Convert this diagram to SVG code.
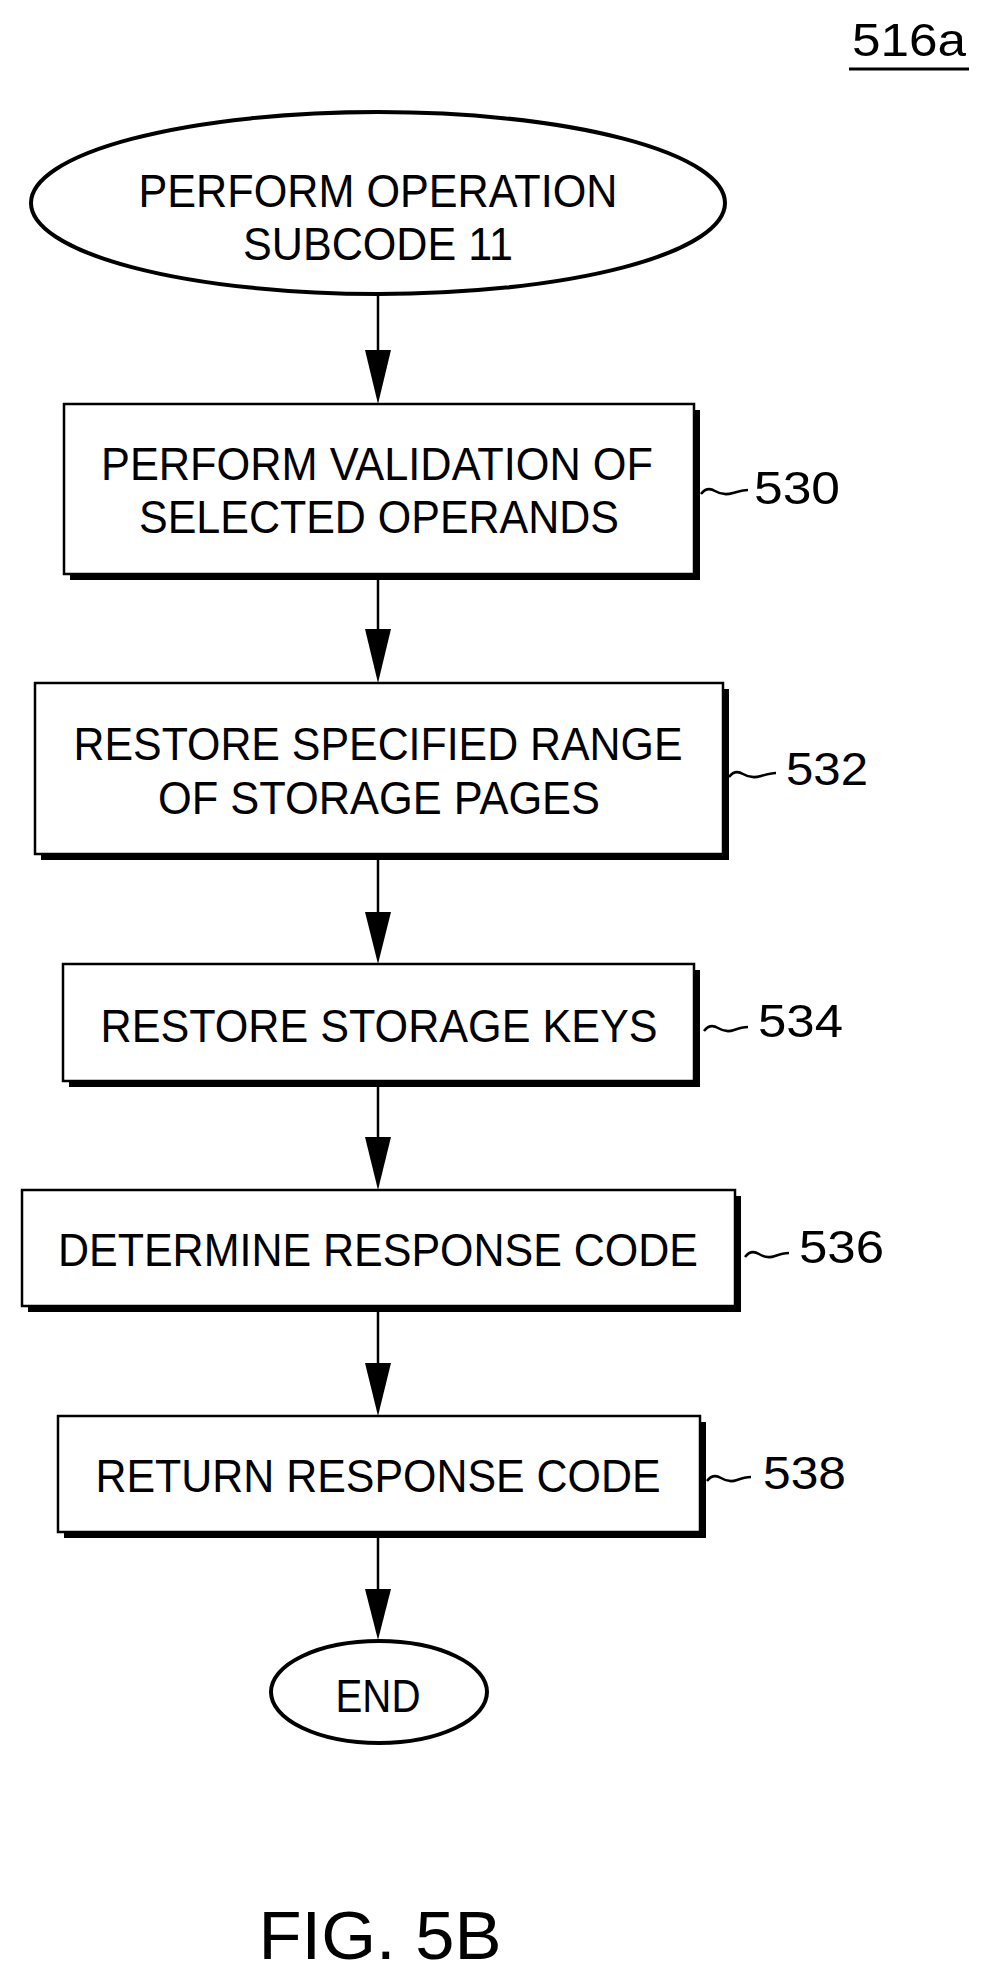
<svg xmlns="http://www.w3.org/2000/svg" width="990" height="1981" viewBox="0 0 990 1981">
<style>
text{font-family:"Liberation Sans",Arial,sans-serif;fill:#000}
.t{font-size:46px;text-anchor:middle}
.l{font-size:46px}
.box{fill:#fff;stroke:#000;stroke-width:2.5}
.sh{fill:#000}
.ell{fill:#fff;stroke:#000;stroke-width:4}
.ln{stroke:#000;stroke-width:2.5;fill:none}
</style>
<defs>
<marker id="ah" markerWidth="26" markerHeight="53" refX="13" refY="53" orient="auto" markerUnits="userSpaceOnUse" viewBox="0 0 26 53">
<path d="M0,0 L26,0 L13,53 Z" fill="#000" transform="rotate(0)"/>
</marker>
</defs>
<text x="852" y="56" font-size="46" textLength="114" lengthAdjust="spacingAndGlyphs">516a</text>
<line x1="849" y1="69" x2="969" y2="69" stroke="#000" stroke-width="3"/>
<g id="connectors">
<line class="ln" x1="378" y1="296" x2="378" y2="350"/><path d="M365,350 L391,350 L378,404 Z"/>
<line class="ln" x1="378" y1="574" x2="378" y2="629"/><path d="M365,629 L391,629 L378,683 Z"/>
<line class="ln" x1="378" y1="854" x2="378" y2="912"/><path d="M365,912 L391,912 L378,964 Z"/>
<line class="ln" x1="378" y1="1081" x2="378" y2="1137"/><path d="M365,1137 L391,1137 L378,1190 Z"/>
<line class="ln" x1="378" y1="1306" x2="378" y2="1363"/><path d="M365,1363 L391,1363 L378,1416 Z"/>
<line class="ln" x1="378" y1="1532" x2="378" y2="1589"/><path d="M365,1589 L391,1589 L378,1640 Z"/>
</g>
<g id="start">
<ellipse class="ell" cx="378" cy="203" rx="347" ry="91"/>
<text class="t" x="378" y="207" textLength="479" lengthAdjust="spacingAndGlyphs">PERFORM OPERATION</text>
<text class="t" x="378" y="260" textLength="270" lengthAdjust="spacingAndGlyphs">SUBCODE 11</text>
</g>
<g id="n530">
<rect class="sh" x="70" y="410" width="630" height="170"/>
<rect class="box" x="64" y="404" width="630" height="170"/>
<text class="t" x="377" y="480" textLength="552" lengthAdjust="spacingAndGlyphs">PERFORM VALIDATION OF</text>
<text class="t" x="379" y="533" textLength="480" lengthAdjust="spacingAndGlyphs">SELECTED OPERANDS</text>
<path class="ln" d="M701,494 q6,-8 14,-3 t18,2 t15,-3"/>
<text class="l" x="754" y="504" textLength="86" lengthAdjust="spacingAndGlyphs">530</text>
</g>
<g id="n532">
<rect class="sh" x="41" y="689" width="688" height="171"/>
<rect class="box" x="35" y="683" width="688" height="171"/>
<text class="t" x="378" y="760" textLength="609" lengthAdjust="spacingAndGlyphs">RESTORE SPECIFIED RANGE</text>
<text class="t" x="379" y="814" textLength="442" lengthAdjust="spacingAndGlyphs">OF STORAGE PAGES</text>
<path class="ln" d="M729,777 q6,-8 14,-3 t18,2 t15,-3"/>
<text class="l" x="786" y="785" textLength="82" lengthAdjust="spacingAndGlyphs">532</text>
</g>
<g id="n534">
<rect class="sh" x="69" y="970" width="631" height="117"/>
<rect class="box" x="63" y="964" width="631" height="117"/>
<text class="t" x="379" y="1042" textLength="557" lengthAdjust="spacingAndGlyphs">RESTORE STORAGE KEYS</text>
<path class="ln" d="M704,1031 q6,-8 14,-3 t16,2 t14,-3"/>
<text class="l" x="758" y="1037" textLength="85" lengthAdjust="spacingAndGlyphs">534</text>
</g>
<g id="n536">
<rect class="sh" x="28" y="1196" width="713" height="116"/>
<rect class="box" x="22" y="1190" width="713" height="116"/>
<text class="t" x="378" y="1266" textLength="640" lengthAdjust="spacingAndGlyphs">DETERMINE RESPONSE CODE</text>
<path class="ln" d="M745,1257 q6,-8 14,-3 t16,2 t14,-3"/>
<text class="l" x="799" y="1263" textLength="85" lengthAdjust="spacingAndGlyphs">536</text>
</g>
<g id="n538">
<rect class="sh" x="64" y="1422" width="642" height="116"/>
<rect class="box" x="58" y="1416" width="642" height="116"/>
<text class="t" x="378" y="1492" textLength="565" lengthAdjust="spacingAndGlyphs">RETURN RESPONSE CODE</text>
<path class="ln" d="M707,1481 q6,-8 14,-3 t16,2 t14,-3"/>
<text class="l" x="763" y="1489" textLength="83" lengthAdjust="spacingAndGlyphs">538</text>
</g>
<g id="end">
<ellipse class="ell" cx="379" cy="1692" rx="108" ry="51"/>
<text class="t" x="378" y="1712" textLength="85" lengthAdjust="spacingAndGlyphs">END</text>
</g>
<text x="380" y="1959" font-size="68" text-anchor="middle" textLength="243" lengthAdjust="spacingAndGlyphs">FIG. 5B</text>
</svg>
